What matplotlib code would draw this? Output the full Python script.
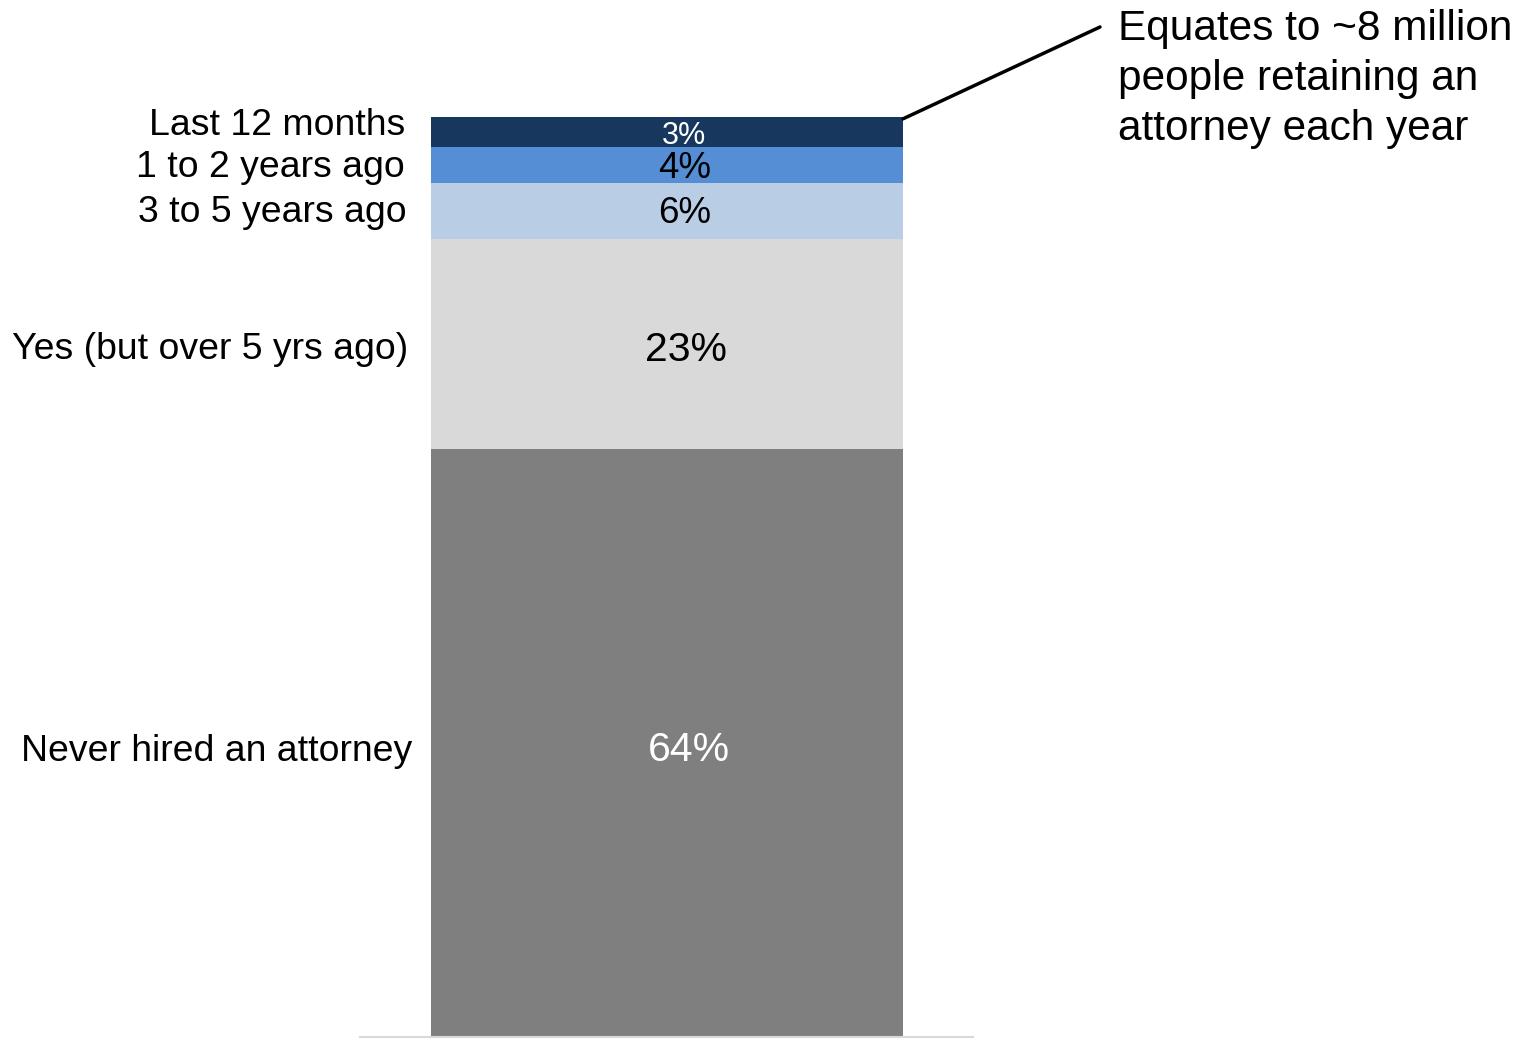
import matplotlib
matplotlib.use("Agg")
import matplotlib.pyplot as plt

plt.rcParams['font.family'] = ['Liberation Sans', 'DejaVu Sans']

categories = ["Never hired an attorney", "Yes (but over 5 yrs ago)", "3 to 5 years ago",
              "1 to 2 years ago", "Last 12 months"]
values = [63.9, 22.8, 6.1, 3.9, 3.3]
value_labels = ["64%", "23%", "6%", "4%", "3%"]
colors = ["#7f7f7f", "#d9d9d9", "#b9cde5", "#558ed5", "#17375e"]
label_colors = ["white", "black", "black", "black", "white"]
value_sizes = [29.5, 29.5, 26.5, 26.5, 22]
val_dx = [22, 19, 18, 18, 17]
val_dy = [-7, -6, -2, -3, -4]
cat_dy = [-8, -5, -1, -2, 7]
cat_dx = [-19, -23, -24, -26, -26]
annotation = "Equates to ~8 million\npeople retaining an\nattorney each year"

W, H = 1530, 1041
fig = plt.figure(figsize=(W / 100, H / 100), dpi=100)
ax = fig.add_axes([360 / W, (H - 1037) / H, 613 / W, 920 / H])
ax.set_xlim(-0.5, 0.5)
ax.set_ylim(0, 100)

bw = 0.77
xc = 0.0008
bottom = 0
for cat, v, lab, c, lc, fs, vdx, vdy, dy, dx in zip(categories, values, value_labels, colors,
                                                    label_colors, value_sizes, val_dx, val_dy,
                                                    cat_dy, cat_dx):
    ax.bar(xc, v, width=bw, bottom=bottom, color=c, edgecolor='none')
    mid = bottom + v / 2
    ax.annotate(lab, xy=(xc, mid), xytext=(vdx, vdy), textcoords='offset pixels',
                ha='center', va='center', fontsize=fs, color=lc)
    ax.annotate(cat, xy=(xc - bw / 2, mid), xytext=(dx, dy), textcoords='offset pixels',
                ha='right', va='center', fontsize=26.9, color='black', annotation_clip=False)
    bottom += v

for s in ['top', 'left', 'right']:
    ax.spines[s].set_visible(False)
ax.spines['bottom'].set_color('#d9d9d9')
ax.spines['bottom'].set_linewidth(1.5)
ax.set_xticks([])
ax.set_yticks([])

ax.annotate('', xy=(xc + bw / 2, 99.8), xycoords='data',
            xytext=(1100, H - 27), textcoords='figure pixels',
            arrowprops=dict(arrowstyle='-', lw=2.5, color='black', shrinkA=0, shrinkB=0),
            annotation_clip=False)
fig.text(1118 / W, (H - 79) / H, annotation, ha='left', va='center', fontsize=30.5,
         linespacing=1.33, color='black')

fig.savefig("out.png", dpi=100)
